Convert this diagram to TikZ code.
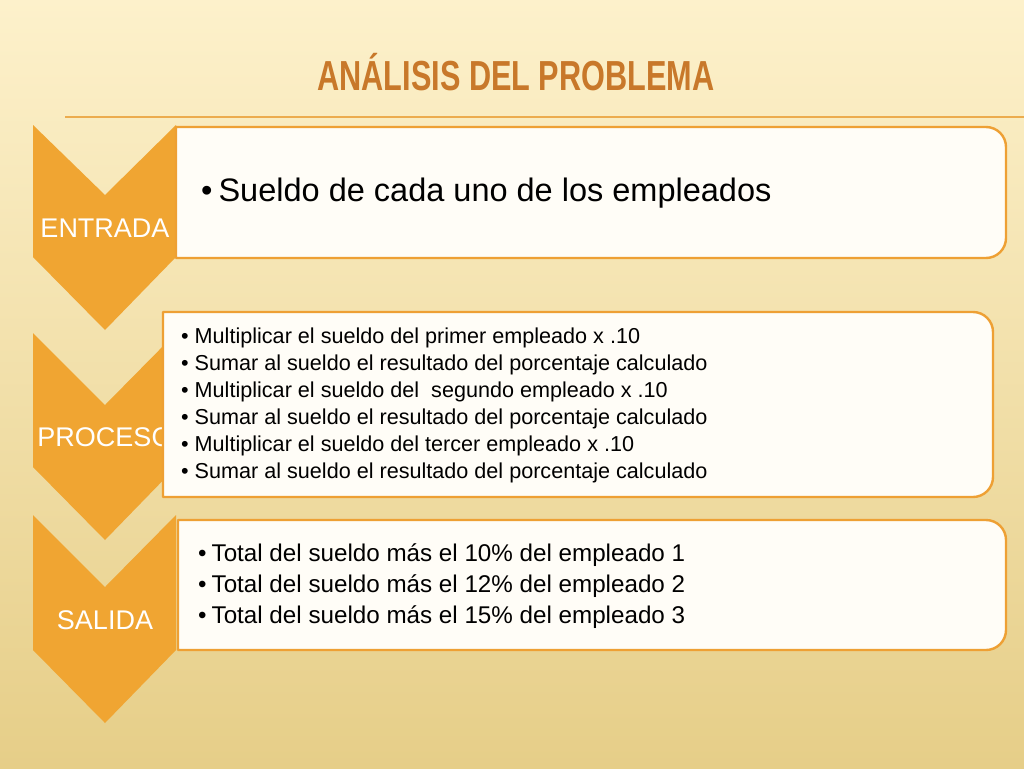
\documentclass[tikz,border=0pt]{standalone}
\usepackage{fontspec}
\usepackage{graphicx}
\setmainfont{Liberation Sans}
\definecolor{chev}{RGB}{240,165,50}
\definecolor{paneledge}{RGB}{238,160,52}
\definecolor{panelfill}{RGB}{255,253,247}
\definecolor{titlecol}{RGB}{200,120,42}
\definecolor{bgtop}{RGB}{253,241,203}
\definecolor{bgbot}{RGB}{230,206,136}
\definecolor{rulecol}{RGB}{236,172,78}
\begin{document}
\begin{tikzpicture}[x=1pt,y=1pt,yscale=-1,xscale=1,
    chevron/.style={fill=chev,draw=none},
    panel/.style={draw=paneledge,line width=2.4pt,fill=panelfill,line join=round},
    steplabel/.style={text=white,inner sep=0pt,font=\fontsize{27}{27}\selectfont},
    items/.style={anchor=west,align=left,inner sep=0pt,text=black}]
    \useasboundingbox (0,0) rectangle (1024,768);

    %Shape: Background
    \shade [top color=bgtop, bottom color=bgbot] (0,0) rectangle (1024,768);
    %Straight Lines: title rule
    \draw [rulecol, line width=1.5pt] (65,117) -- (1024,117);

    % Text Node: title
    \node (title) at (516,72) [inner sep=0pt,text=titlecol]
        {\scalebox{0.73}[1]{\fontsize{42}{42}\selectfont\bfseries ANÁLISIS DEL PROBLEMA}};

    %Shape: Chevron ENTRADA
    \draw [chevron] (33,125) -- (105,195) -- (176,125) -- (176,257) -- (105,330) -- (33,257) -- cycle;
    %Shape: Chevron PROCESO
    \draw [chevron] (33,333) -- (105,405) -- (176,333) -- (176,467) -- (105,540) -- (33,467) -- cycle;
    %Shape: Chevron SALIDA
    \draw [chevron] (33,515) -- (105,587) -- (176,515) -- (176,650) -- (105,723) -- (33,650) -- cycle;

    % Text Node
    \node (entrada) at (105,228) [steplabel] {ENTRADA};
    % Text Node
    \node (proceso) at (105,437) [steplabel] {PROCESO};
    % Text Node
    \node (salida) at (105,620) [steplabel] {SALIDA};

    %Shape: Panel ENTRADA
    \draw [panel] (176,127) -- (986,127) arc (270:360:20) -- (1006,238) arc (0:90:20) -- (176,258) -- cycle;
    %Shape: Panel PROCESO
    \draw [panel] (163,312) -- (973,312) arc (270:360:20) -- (993,477) arc (0:90:20) -- (163,497) -- cycle;
    %Shape: Panel SALIDA
    \draw [panel] (178,520) -- (986,520) arc (270:360:20) -- (1006,630) arc (0:90:20) -- (178,650) -- cycle;

    % Text Node
    \node (entradaItems) at (201,193) [items,font=\fontsize{32.5}{32.5}\selectfont]
        {•\hspace{6pt}Sueldo de cada uno de los empleados};
    % Text Node
    \node (procesoItems) at (181,405) [items,font=\fontsize{21.6}{27}\selectfont]
        {•\hspace{6pt}Multiplicar el sueldo del primer empleado x .10\\
         •\hspace{6pt}Sumar al sueldo el resultado del porcentaje calculado\\
         •\hspace{6pt}Multiplicar el sueldo del \ segundo empleado x .10\\
         •\hspace{6pt}Sumar al sueldo el resultado del porcentaje calculado\\
         •\hspace{6pt}Multiplicar el sueldo del tercer empleado x .10\\
         •\hspace{6pt}Sumar al sueldo el resultado del porcentaje calculado};
    % Text Node
    \node (salidaItems) at (198,586) [items,font=\fontsize{24.2}{31}\selectfont]
        {•\hspace{5pt}Total del sueldo más el 10\% del empleado 1\\
         •\hspace{5pt}Total del sueldo más el 12\% del empleado 2\\
         •\hspace{5pt}Total del sueldo más el 15\% del empleado 3};

\end{tikzpicture}
\end{document}
